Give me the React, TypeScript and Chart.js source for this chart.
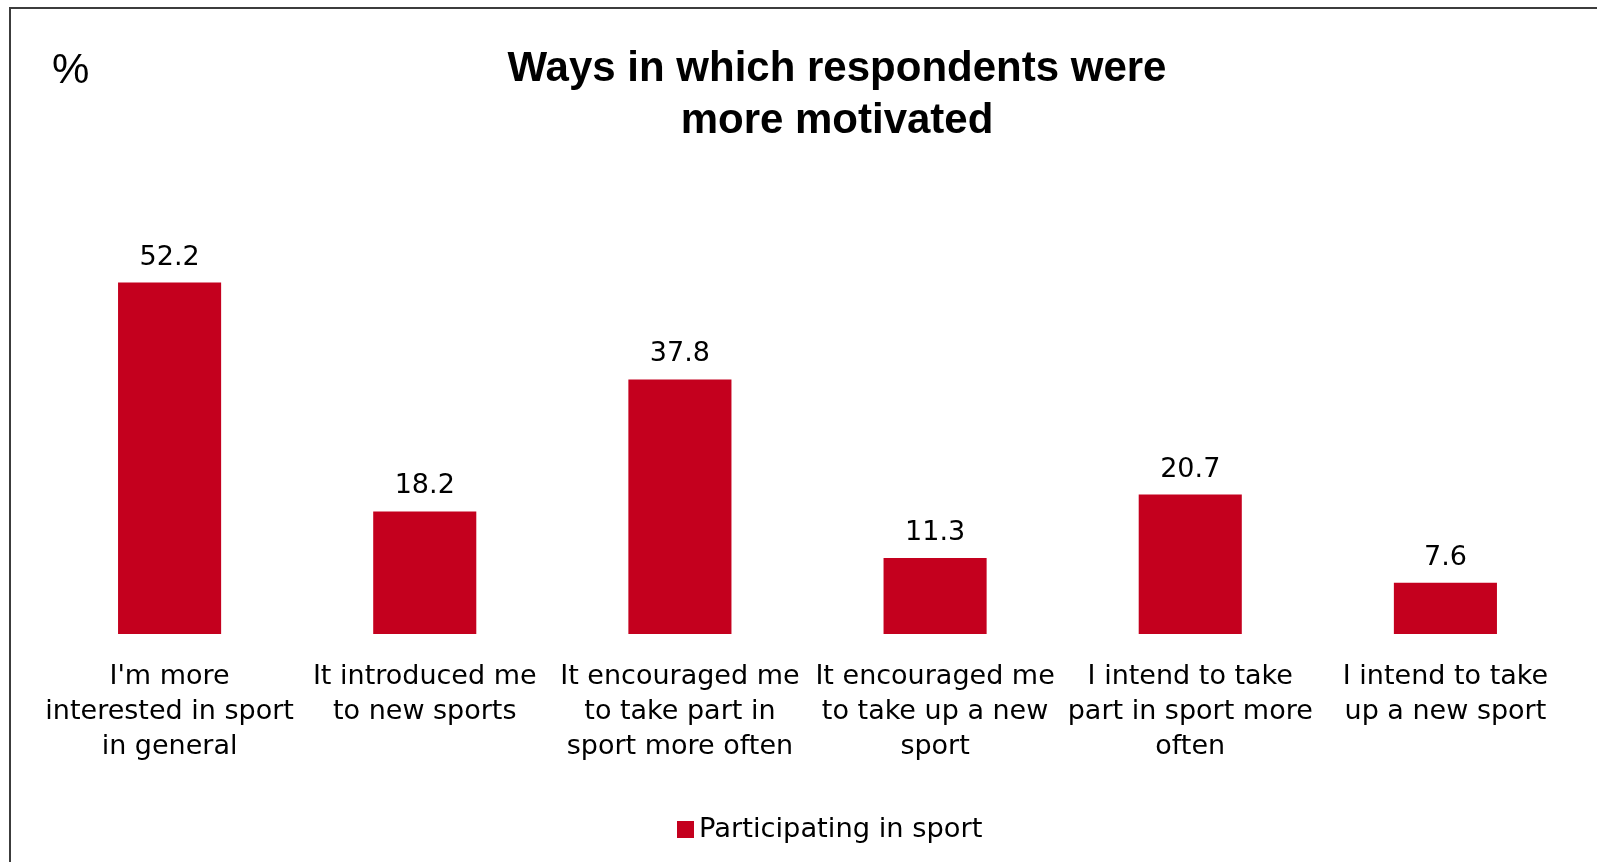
import React, { useEffect, useRef } from "react";
import { Chart, registerables } from "chart.js";

Chart.register(...registerables);

const categories: string[][] = [
  ["I'm more", "interested in sport", "in general"],
  ["It introduced me", "to new sports"],
  ["It encouraged me", "to take part in", "sport more often"],
  ["It encouraged me", "to take up a new", "sport"],
  ["I intend to take", "part in sport more", "often"],
  ["I intend to take", "up a new sport"],
];
const participatingValues: number[] = [52.2, 18.2, 37.8, 11.3, 20.7, 7.6];
const seriesName = "Participating in sport";
const titleLines: string[] = ["Ways in which respondents were", "more motivated"];
const unitLabel = "%";

const BAR_COLOR = "#C4001E";
const LABEL_FONT = "DejaVu Sans";

const decorPlugin = {
  id: "decor",
  afterDatasetsDraw(chart: any) {
    const ctx = chart.ctx;
    ctx.save();
    // data labels
    const meta = chart.getDatasetMeta(0);
    ctx.fillStyle = "#000";
    ctx.font = `27px "${LABEL_FONT}"`;
    ctx.textAlign = "center";
    ctx.textBaseline = "middle";
    meta.data.forEach((bar: any, i: number) => {
      const v = chart.data.datasets[0].data[i];
      ctx.fillText(v.toFixed(1), bar.x, bar.y - 25);
    });
    // title
    ctx.font = `bold 42px "Liberation Sans", Arial, sans-serif`;
    ctx.fillStyle = "#000";
    titleLines.forEach((t, i) => ctx.fillText(t, 837, 69 + i * 52));
    // unit
    ctx.font = `42px "Liberation Sans", Arial, sans-serif`;
    ctx.textAlign = "left";
    ctx.fillText(unitLabel, 52, 71);
    // legend
    ctx.fillStyle = BAR_COLOR;
    ctx.fillRect(677, 821, 17, 17);
    ctx.fillStyle = "#000";
    ctx.font = `27.3px "${LABEL_FONT}"`;
    ctx.fillText(seriesName, 699, 830);
    ctx.restore();
  },
};

export default function App() {
  const ref = useRef<HTMLCanvasElement | null>(null);
  useEffect(() => {
    if (!ref.current) return;
    const chart = new Chart(ref.current, {
      type: "bar",
      data: {
        labels: categories,
        datasets: [
          {
            label: seriesName,
            data: participatingValues,
            backgroundColor: BAR_COLOR,
            borderWidth: 0,
            barPercentage: 0.404,
            categoryPercentage: 1,
          },
        ],
      },
      options: {
        animation: false,
        responsive: false,
        maintainAspectRatio: false,
        layout: { padding: { top: 230, left: 42, right: 24, bottom: 0 } },
        plugins: {
          legend: { display: false },
          title: { display: false },
          tooltip: { enabled: false },
        },
        scales: {
          x: {
            grid: { display: false, drawTicks: false },
            border: { display: false },
            ticks: {
              autoSkip: false,
              maxRotation: 0,
              minRotation: 0,
              padding: 25,
              color: "#000",
              font: { family: LABEL_FONT, size: 27, lineHeight: 1.3 },
            },
            afterFit: (scale: any) => {
              scale.height = 228;
            },
          },
          y: {
            display: false,
            min: 0,
            max: 60,
          },
        },
      },
      plugins: [decorPlugin],
    });
    return () => chart.destroy();
  }, []);

  return (
    <div
      style={{
        position: "fixed",
        left: 0,
        top: 0,
        width: 1597,
        height: 862,
        overflow: "hidden",
        background: "#fff",
      }}
    >
      <div
        style={{
          position: "absolute",
          left: 9,
          top: 7,
          width: 3000,
          height: 3000,
          borderTop: "2px solid #3c3c3c",
          borderLeft: "2px solid #3c3c3c",
        }}
      />
      <canvas
        ref={ref}
        width={1597}
        height={862}
        style={{ position: "absolute", left: 0, top: 0, width: 1597, height: 862 }}
      />
    </div>
  );
}
